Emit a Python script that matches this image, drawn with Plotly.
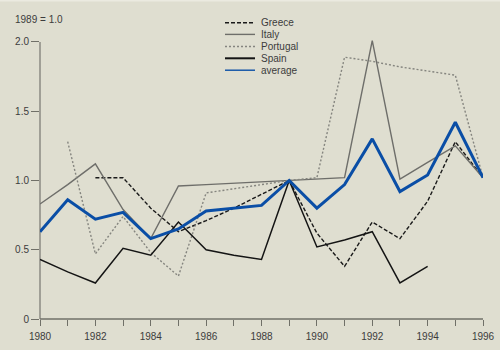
import plotly.graph_objects as go

years = list(range(1980, 1997))
greece = [None, None, 1.02, 1.02, 0.80, 0.63, 0.71, 0.80, 0.90, 1.00, 0.62, 0.38, 0.70, 0.58, 0.85, 1.28, 1.02]
italy = [0.83, 0.97, 1.12, 0.79, 0.58, 0.96, 0.97, 0.98, 0.99, 1.00, 1.01, 1.02, 2.01, 1.01, 1.13, 1.25, 1.02]
portugal = [None, 1.28, 0.47, 0.74, 0.48, 0.31, 0.91, 0.94, 0.97, 1.00, 1.02, 1.89, 1.86, 1.82, 1.79, 1.76, 1.02]
spain = [0.43, 0.34, 0.26, 0.51, 0.46, 0.70, 0.50, 0.46, 0.43, 1.00, 0.52, 0.57, 0.63, 0.26, 0.38, None, None]
average = [0.63, 0.86, 0.72, 0.77, 0.58, 0.65, 0.78, 0.80, 0.82, 1.00, 0.80, 0.97, 1.30, 0.92, 1.04, 1.42, 1.02]

ytick_vals = [0, 0.5, 1.0, 1.5, 2.0]
ytick_text = ["0", "0.5", "1.0", "1.5", "2.0"]
xtick_text = [str(y) if y % 2 == 0 else "" for y in years]

FONT = "Liberation Sans, Arial, sans-serif"
TXT = "#3c3c3c"
L, R, T, B = 40, 17, 35, 31
PW, PH = 500 - L - R, 350 - T - B

def px_x(p):
    return (p - L) / PW

def px_y(p):
    return (350 - B - p) / PH

fig = go.Figure()
series = [
    ("Greece", greece, dict(color="#1a1a1a", width=1.4, dash="4px,2px"), dict(width=1.4)),
    ("Italy", italy, dict(color="#6e6e6a", width=1.4), dict(width=1.4)),
    ("Portugal", portugal, dict(color="#85857f", width=1.4, dash="2px,2px"), dict(width=1.4)),
    ("Spain", spain, dict(color="#141414", width=1.5), dict(width=2)),
    ("average", average, dict(color="#0a4ea6", width=3), dict(width=1.4)),
]
legend_rows = [22.7, 34.4, 46.5, 58.3, 70.2]

shapes = [
    dict(type="rect", xref="paper", yref="paper", x0=px_x(0), x1=px_x(500),
         y0=px_y(0), y1=px_y(1.5), line=dict(width=0), fillcolor="#ebeae0",
         layer="below"),
    dict(type="line", xref="paper", yref="y", x0=0, x1=0, y0=0, y1=2.0,
         line=dict(color="#a09f96", width=2), layer="below"),
    dict(type="line", xref="x", yref="paper", x0=1980, x1=1996, y0=0, y1=0,
         line=dict(color="#707068", width=1.3), layer="below"),
]
annotations = [
    dict(text="1989 = 1.0", xref="paper", yref="paper",
         x=px_x(13), y=px_y(20), xanchor="left", yanchor="middle",
         showarrow=False, font=dict(size=10, color=TXT)),
]

for (name, vals, line, legline), ry in zip(series, legend_rows):
    fig.add_trace(go.Scatter(x=years, y=vals, name=name, mode="lines", line=line,
                             connectgaps=False, showlegend=False))
    ll = dict(line)
    ll.update(legline)
    shapes.append(dict(type="line", xref="paper", yref="paper",
                       x0=px_x(225), x1=px_x(255), y0=px_y(ry), y1=px_y(ry),
                       line=ll))
    annotations.append(dict(text=name, xref="paper", yref="paper",
                            x=px_x(259), y=px_y(ry), xanchor="left", yanchor="middle",
                            showarrow=False, font=dict(size=10, color=TXT)))

fig.update_layout(
    template="none",
    width=500, height=350,
    margin=dict(l=L, r=R, t=T, b=B, pad=0),
    paper_bgcolor="#dfded0", plot_bgcolor="#dfded0",
    font=dict(family=FONT, size=10, color=TXT),
    showlegend=False,
    xaxis=dict(range=[1980, 1996], tickvals=years, ticktext=xtick_text,
               ticks="outside", ticklen=6, tickcolor="#707068", tickwidth=1.3,
               showgrid=False, zeroline=False, showline=False, automargin=False,
               ticklabelstandoff=2,
               tickfont=dict(size=10, color=TXT)),
    yaxis=dict(range=[0, 2.05], tickvals=ytick_vals, ticktext=ytick_text,
               ticks="outside", ticklen=8, tickcolor="#707068", tickwidth=1.2,
               showgrid=False, zeroline=False, showline=False, automargin=False,
               tickfont=dict(size=10, color=TXT)),
    shapes=shapes,
    annotations=annotations,
)

fig.write_html("out.html")
